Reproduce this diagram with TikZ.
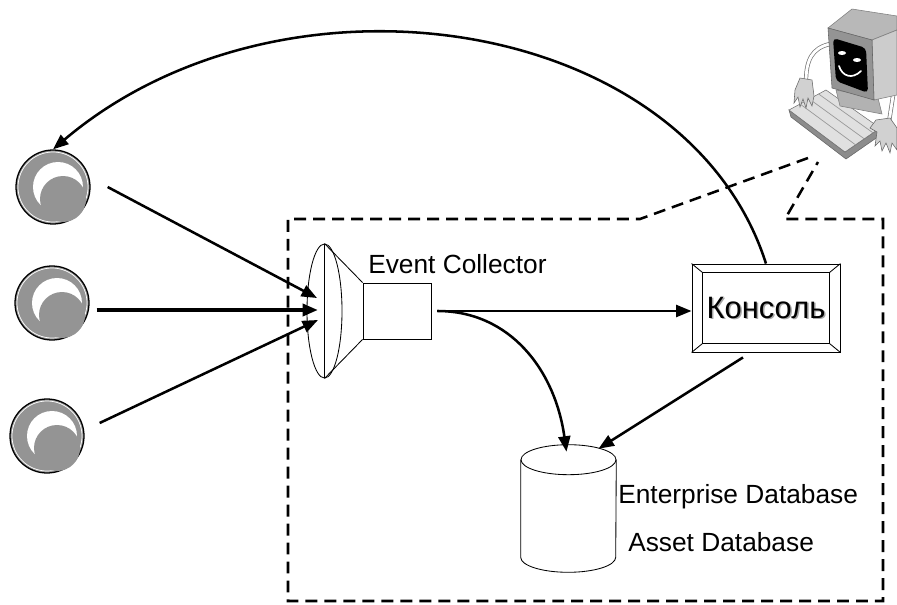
\documentclass[tikz,border=0pt]{standalone}
\usepackage{fontspec}
\setmainfont{Liberation Sans}
\usetikzlibrary{
  arrows.meta,
  calc,
  shapes.geometric
}

\begin{document}
\begin{tikzpicture}[
  x=0.025cm,
  y=-0.025cm,
  flow/.style={line width=1.8pt,-{Triangle[length=11pt,width=8.5pt]}},
  boundary/.style={line width=1.8pt,dash pattern=on 8.5pt off 5pt},
  sensor/.style={circle,draw,line width=0.9pt,fill=black!42,minimum size=1.85cm,inner sep=0pt},
  thinline/.style={line width=0.6pt},
  label text/.style={font=\fontsize{18.7}{22}\selectfont,inner sep=0pt},
  console/.style={draw,thinline,minimum width=3.7cm,minimum height=2.2cm,inner sep=0pt,font=\fontsize{22}{26}\selectfont},
  skin/.style={fill=black!18,draw=black!60,line width=0.4pt},
]
\useasboundingbox (0,0) rectangle (897,605);

\foreach \i/\x/\y in {1/53/187,2/52/303,3/47/436}{
  \node[sensor] (src\i) at (\x,\y) {};
  \draw[white,line width=0.5pt] (src\i.center) circle[radius=35];
  \fill[white] ([shift={(5,0)}]src\i.center) circle[radius=25];
  \fill[black!42] ([shift={(10,12)}]src\i.center) circle[radius=23];
}

\node[ellipse,draw,thinline,minimum width=0.875cm,minimum height=3.35cm,inner sep=0pt] (mouth) at (324.5,311) {};
\node[draw,thinline,minimum width=1.7cm,minimum height=1.4cm,inner sep=0pt] (tube) at (397,311) {};
\draw[thinline] (mouth.north) -- (mouth.south)
  (mouth.north) -- (tube.north west)
  (mouth.south) -- (tube.south west);
\node[label text,anchor=base west] (collector) at (368,273) {Event Collector};
\coordinate (in1) at (317,298);
\coordinate (in2) at (318,310);
\coordinate (in3) at (318,320);

\node[console,draw=none,text=black!35] (shadow) at (767.5,309.5) {Консоль};
\node[console] (console) at (766,308) {Консоль};
\draw[thinline] ([shift={(11,9)}]console.north west) rectangle ([shift={(-11,-9)}]console.south east);
\draw[thinline] (console.north west) -- ++(11,9)
  (console.north east) -- ++(-11,9)
  (console.south west) -- ++(11,-9)
  (console.south east) -- ++(-11,-9);

\node[minimum width=2.375cm,minimum height=3.175cm,inner sep=0pt] (db) at (568.5,508.5) {};
\draw[thinline] ([shift={(0,15)}]db.north) ellipse[x radius=47.5,y radius=15];
\draw[thinline] ([shift={(0,15)}]db.north west) -- ([shift={(0,-15)}]db.south west)
  arc[start angle=180,end angle=0,x radius=47.5,y radius=15] -- ([shift={(0,15)}]db.north east);
\node[label text,anchor=base west] (enterprise) at (618,503) {Enterprise Database};
\node[label text,anchor=base west] (asset) at (628,551) {Asset Database};

\draw[flow] ([shift={(17,0)}]src1.east) -- (in1);
\draw[flow,line width=2.8pt] ([shift={(7,7)}]src2.east) -- (in2);
\draw[flow] ([shift={(15,-13)}]src3.east) -- (in3);
\draw[flow] ([shift={(6,0)}]tube.east) -- (tube.east -| console.west);
\draw[flow] ([shift={(6,0)}]tube.east) .. controls (510,311) and (555,370) .. ([shift={(-2,7)}]db.north);
\draw[flow] ([shift={(-23,5)}]console.south) -- ([shift={(30,4)}]db.north);
\draw[flow] (console.north) .. controls +(-80,-250) and +(230,-195) .. (src1.north);

\draw[boundary] (808,158) -- (640,219) -- (288,219) -- (288,601) -- (883,601) -- (883,219) -- (785,219) -- (818,162);

% operator at the keyboard
\draw[black!55,double=white,double distance=2pt,line width=0.5pt] (806,82) .. controls (806,60) and (812,48) .. (830,44);
\draw[black!55,double=white,double distance=2pt,line width=0.5pt] (893,96) -- (889,122);
\filldraw[fill=black!45,draw=black!60,line width=0.4pt] (789,110) -- (791,117) -- (846,159) -- (882,134) -- (880,128) -- (845,152) -- cycle;
\filldraw[fill=black!12,draw=black!55,line width=0.4pt] (789,110) -- (826,90) -- (880,128) -- (845,152) -- cycle;
\foreach \k in {0.3,0.55,0.8}
  \draw[black!40,line width=0.5pt] ($(789,110)!\k!(826,90)$) -- ($(845,152)!\k!(880,128)$);
\filldraw[fill=black!30,draw=black!50,line width=0.4pt] (836,90) -- (878,98) -- (882,114) -- (840,106) -- cycle;
\filldraw[fill=black!28,draw=black!50,line width=0.4pt] (828,28) -- (852,9) -- (897,16) -- (897,30) -- (872,40) -- cycle;
\filldraw[fill=black!20,draw=black!50,line width=0.4pt] (872,40) -- (897,30) -- (897,95) -- (874,100) -- cycle;
\filldraw[fill=black!42,draw=black!60,line width=0.4pt] (828,28) -- (872,40) -- (874,100) -- (832,88) -- cycle;
\fill[black,rounded corners=3pt] (833,38) -- (866,48) -- (868,93) -- (836,81) -- cycle;
\fill[white] (842,53) ellipse[x radius=4,y radius=2];
\fill[white] (857,60) ellipse[x radius=4,y radius=2];
\draw[white,line width=1.2pt,line cap=round] (839,66) .. controls (842,76) and (852,80) .. (861,71);
\filldraw[skin] (800,78) -- (812,80) -- (814,96) -- (812,106) -- (808,98) -- (806,108) -- (803,99) -- (800,107) -- (798,97) -- (794,103) -- (795,90) -- cycle;
\filldraw[skin] (876,120) -- (890,118) -- (897,128) -- (897,150) -- (892,143) -- (890,153) -- (886,143) -- (882,151) -- (880,141) -- (875,146) -- (877,132) -- (870,128) -- cycle;
\end{tikzpicture}
\end{document}
